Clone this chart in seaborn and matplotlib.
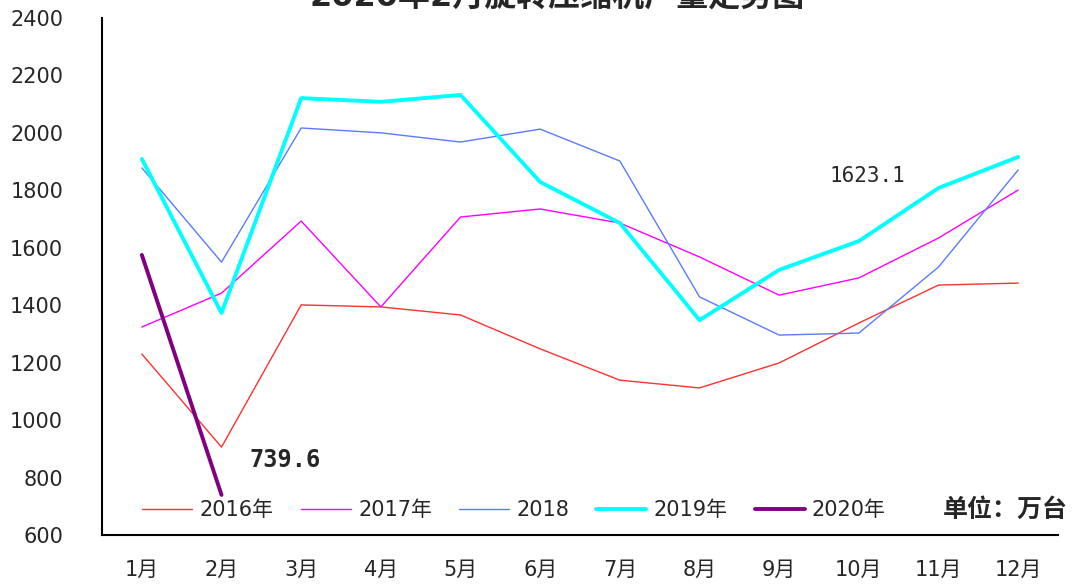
import pandas as pd
import matplotlib.pyplot as plt
import seaborn as sns

# monthly output, 万台
months = ["1月", "2月", "3月", "4月", "5月", "6月", "7月", "8月", "9月", "10月", "11月", "12月"]
y2016 = [1230, 906, 1401, 1394, 1366, 1248, 1139, 1112, 1199, 1338, 1470, 1477]
y2017 = [1324, 1442, 1693, 1394, 1707, 1735, 1686, 1568, 1435, 1495, 1634, 1801]
y2018 = [1878, 1550, 2017, 2000, 1968, 2013, 1902, 1429, 1296, 1303, 1533, 1871]
y2019 = [1909, 1373, 2121, 2108, 2132, 1829, 1686, 1348, 1523, 1623.1, 1808, 1916]
y2020 = [1575, 739.6]

series_names = ["2016年", "2017年", "2018", "2019年", "2020年"]
series_colors = ["#FF3030", "#FF00FF", "#5B7BFF", "#00FFFF", "#800080"]
series_widths = [1.0, 1.0, 1.0, 2.8, 2.8]


def build_frame():
    """long table: one row per year and month"""
    rows = []
    for name, vals in zip(series_names, [y2016, y2017, y2018, y2019, y2020]):
        for i, v in enumerate(vals):
            rows.append({"year": name, "month": i, "value": v})
    return pd.DataFrame(rows)


def plot_chart(df: pd.DataFrame):
    sns.set_style("white")
    # DejaVu for the digits, Noto CJK for 年/月 etc.
    plt.rcParams["font.family"] = ["DejaVu Sans", "Noto Sans CJK SC"]

    fig = plt.figure(figsize=(10.75, 5.87), dpi=100)
    ax = fig.add_axes([0.0949, 0.0886, 0.8893, 0.8808])

    for name, color, lw in zip(series_names, series_colors, series_widths):
        sns.lineplot(data=df[df["year"] == name], x="month", y="value", ax=ax,
                     color=color, linewidth=lw, label=name, sort=False)

    ax.set_xlim(-0.5, 11.5)
    ax.set_ylim(600, 2400)
    ax.set_yticks(range(600, 2401, 200))
    ax.tick_params(axis="y", direction="in", length=5, width=1.2, labelsize=15, pad=28)

    # tick marks between categories, labels at the centres
    ax.set_xticks([i + 0.5 for i in range(12)])
    ax.set_xticklabels([])
    ax.set_xticks(range(12), minor=True)
    ax.set_xticklabels(months, minor=True, fontsize=15)
    ax.tick_params(axis="x", which="major", direction="in", length=5, width=1.2)
    ax.tick_params(axis="x", which="minor", length=0, pad=18)

    ax.set_xlabel("")
    ax.set_ylabel("")
    for side in ["top", "right"]:
        ax.spines[side].set_visible(False)
    for side in ["left", "bottom"]:
        ax.spines[side].set_color("black")
        ax.spines[side].set_linewidth(1.5)

    ax.legend(ncol=5, loc="center left", bbox_to_anchor=(0.115, 0.131),
              bbox_transform=fig.transFigure, frameon=False, fontsize=15,
              handlelength=2.4, handletextpad=0.35, columnspacing=1.3)
    fig.text(0.935, 0.131, "单位：万台", fontsize=18, fontweight="bold",
             ha="center", va="center")

    ax.annotate("739.6", xy=(1, y2020[1]), xytext=(46, 25), textcoords="offset points",
                ha="center", va="center", fontsize=17, fontweight="bold",
                family="DejaVu Sans Mono")
    ax.annotate("1623.1", xy=(9, y2019[9]), xytext=(6, 47), textcoords="offset points",
                ha="center", va="center", fontsize=15, family="DejaVu Sans Mono")

    fig.text(0.518, 0.978, "2020年2月旋转压缩机产量走势图", fontsize=23,
             fontweight="bold", ha="center", va="bottom")

    fig.savefig("out.png", dpi=100)


if __name__ == "__main__":
    plot_chart(build_frame())
